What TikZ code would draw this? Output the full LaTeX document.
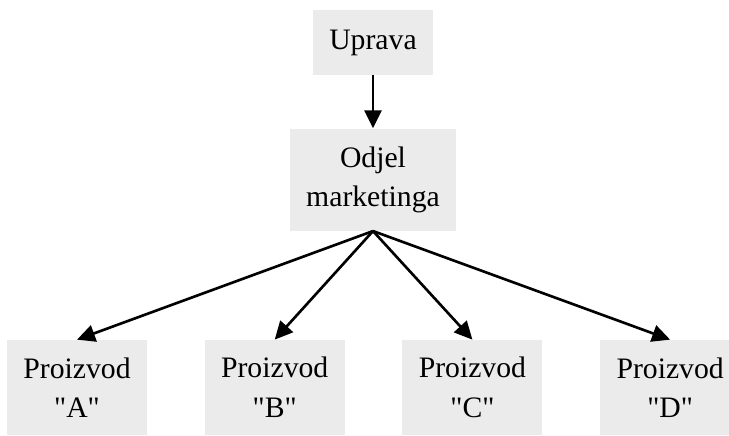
\documentclass[tikz,border=0pt]{standalone}
\usepackage{fontspec}
\setmainfont{Liberation Serif}
\usepackage{tikz}
\usetikzlibrary{arrows.meta,positioning}
\definecolor{boxgray}{HTML}{EBEBEB}
\newcommand{\qd}[1]{\textquotedbl#1\textquotedbl}

\begin{document}
\begin{tikzpicture}[
	node distance=2.2cm and 1.14cm,
	block/.style={fill=boxgray, align=center, inner sep=0pt, font=\fontsize{16.9}{22.5}\selectfont},
	prod/.style={block, minimum width=2.8cm, minimum height=1.9cm},
	arr/.style={-{Triangle[length=3.6mm,width=3.4mm]}, line width=1.5pt}
	]
	\useasboundingbox (0,0) rectangle (14.58,-8.72);
	\node[block, minimum width=2.4cm, minimum height=1.3cm] (up) at (7.46,-0.85) {Uprava};
	\node[block, minimum width=3.32cm, minimum height=2.04cm, below=1.06cm of up] (om) {Odjel\\marketinga};
	\node[prod] (pa) at (1.54,-7.75) {Proizvod\\\qd{A}};
	\node[prod, right=of pa] (pb) {Proizvod\\\qd{B}};
	\node[prod, right=of pb] (pc) {Proizvod\\\qd{C}};
	\node[prod, right=of pc] (pd) {Proizvod\\\qd{D}};
	\draw[arr] (up) -- (om);
	\draw[arr] (om.south) -- (pa.north);
	\draw[arr] (om.south) -- (pb.north);
	\draw[arr] (om.south) -- (pc.north);
	\draw[arr] (om.south) -- (pd.north);
\end{tikzpicture}
\end{document}
